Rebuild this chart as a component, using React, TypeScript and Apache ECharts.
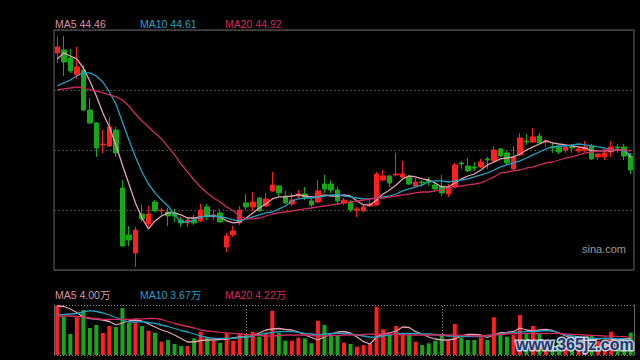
import React, { useEffect, useRef } from "react";
import * as echarts from "echarts";

// [open, close, low, high]
const candles: number[][] = [
  [52.28, 52.73, 51.53, 53.48], [52.50, 51.60, 50.55, 53.55], [51.90, 50.93, 50.78, 52.58], [50.63, 51.23, 50.33, 52.73], [51.00, 48.00, 47.93, 51.38],
  [48.00, 47.03, 46.95, 48.90], [47.03, 45.15, 44.48, 47.10], [45.38, 45.45, 44.78, 46.50], [45.30, 46.73, 45.23, 47.48], [46.50, 44.78, 44.48, 46.73],
  [42.15, 37.80, 37.75, 42.75], [38.63, 38.25, 37.80, 39.30], [37.28, 39.00, 36.23, 39.23], [40.20, 39.83, 39.60, 40.88], [39.45, 40.20, 39.23, 40.80],
  [41.10, 40.43, 40.35, 41.25], [40.43, 40.50, 40.05, 40.65], [40.35, 40.05, 39.30, 40.65], [40.28, 40.05, 39.60, 40.58], [39.75, 39.53, 39.23, 39.98],
  [39.53, 39.75, 39.23, 39.98], [39.75, 39.53, 39.38, 40.13], [39.68, 40.50, 39.60, 40.95], [40.73, 39.98, 39.75, 40.95], [39.98, 40.13, 39.75, 40.50],
  [40.28, 39.60, 39.53, 40.58], [37.73, 38.55, 37.35, 38.78], [38.63, 38.93, 38.48, 39.30], [39.53, 40.50, 39.38, 40.80], [41.03, 40.73, 40.50, 41.70],
  [40.73, 41.10, 40.43, 41.85], [41.40, 40.43, 40.35, 41.48], [40.80, 41.33, 40.73, 41.78], [41.93, 42.38, 41.85, 43.35], [42.30, 41.78, 41.55, 42.38],
  [41.55, 41.03, 40.95, 41.93], [40.95, 41.25, 40.80, 41.78], [41.55, 41.70, 41.40, 42.00], [41.70, 41.48, 41.25, 42.23], [41.18, 40.88, 40.73, 41.40],
  [41.10, 41.93, 41.03, 42.75], [42.45, 42.08, 41.78, 43.13], [42.45, 42.00, 41.78, 42.75], [42.00, 41.18, 40.88, 42.23], [41.03, 41.25, 40.88, 41.40],
  [41.10, 40.50, 40.35, 41.25], [40.50, 40.58, 39.98, 40.73], [40.43, 40.73, 40.35, 40.88], [40.80, 40.95, 40.73, 41.25], [40.88, 43.20, 40.83, 43.35],
  [42.75, 43.05, 42.68, 43.50], [43.05, 42.53, 42.23, 43.13], [43.13, 43.20, 43.05, 44.78], [42.98, 43.20, 42.90, 44.18], [42.98, 42.45, 42.38, 43.13],
  [42.30, 42.60, 42.23, 42.90], [42.60, 42.53, 42.23, 42.75], [42.75, 42.60, 42.30, 42.98], [42.38, 42.08, 41.85, 42.60], [42.30, 41.78, 41.55, 43.13],
  [41.70, 42.23, 41.48, 42.45], [42.23, 43.88, 42.15, 44.03], [44.03, 43.95, 43.58, 44.18], [43.80, 43.43, 43.35, 44.40], [43.73, 43.65, 43.43, 44.10],
  [43.73, 44.10, 43.65, 44.33], [44.33, 44.25, 43.58, 44.48], [44.18, 45.00, 44.10, 45.30], [45.08, 44.55, 44.48, 45.15], [44.78, 44.03, 43.88, 44.93],
  [43.58, 44.48, 43.43, 45.30], [44.63, 45.90, 44.55, 46.28], [45.68, 45.60, 45.38, 46.20], [45.60, 45.98, 45.53, 46.65], [46.05, 45.53, 45.45, 46.28],
  [45.60, 45.68, 45.23, 45.83], [45.23, 45.15, 44.78, 45.60], [45.23, 44.85, 44.70, 45.30], [45.00, 45.23, 44.78, 45.30], [45.23, 45.15, 44.78, 45.45],
  [44.93, 45.08, 44.78, 45.23], [45.00, 45.23, 44.85, 45.68], [45.30, 44.33, 44.25, 45.45], [44.48, 44.70, 44.25, 44.78], [44.48, 44.78, 44.25, 45.00],
  [44.85, 45.23, 44.48, 45.68], [45.23, 45.15, 44.78, 45.45], [45.23, 44.55, 44.25, 45.45], [44.55, 43.50, 43.20, 44.78],
];

const ma5 = [
  51.83, 52.28, 52.05, 51.83, 51.15, 50.18, 49.05, 47.78, 46.73, 45.38,
  43.88, 42.45, 41.03, 39.90, 39.08, 39.68, 40.05, 40.28, 40.28, 40.13,
  39.90, 39.90, 39.98, 40.05, 40.05, 39.98, 39.68, 39.53, 39.60, 39.90,
  40.28, 40.65, 40.95, 41.33, 41.48, 41.48, 41.55, 41.63, 41.55, 41.48,
  41.48, 41.63, 41.55, 41.55, 41.63, 41.55, 41.18, 40.88, 40.88, 41.25,
  41.70, 42.00, 42.38, 42.83, 43.05, 42.98, 42.83, 42.75, 42.53, 42.23,
  42.23, 42.53, 42.83, 43.05, 43.20, 43.50, 43.88, 44.10, 44.33, 44.40,
  44.48, 44.70, 45.00, 45.23, 45.45, 45.68, 45.53, 45.45, 45.38, 45.30,
  45.23, 45.15, 44.93, 44.93, 44.93, 44.93, 45.00, 45.00, 44.46,
];
const ma10 = [
  49.80, 50.03, 50.25, 50.55, 50.78, 50.78, 50.55, 50.10, 49.35, 48.45,
  47.10, 45.75, 44.48, 43.35, 42.45, 41.78, 41.25, 40.80, 40.13, 39.60,
  39.60, 39.75, 39.98, 40.05, 40.05, 39.98, 39.90, 39.75, 39.68, 39.83,
  39.98, 40.13, 40.28, 40.35, 40.58, 40.80, 41.18, 41.33, 41.40, 41.40,
  41.48, 41.55, 41.63, 41.63, 41.55, 41.48, 41.40, 41.33, 41.33, 41.40,
  41.48, 41.55, 41.70, 41.93, 42.08, 42.23, 42.38, 42.60, 42.68, 42.68,
  42.60, 42.68, 42.75, 42.83, 42.98, 43.13, 43.28, 43.50, 43.73, 43.88,
  44.03, 44.18, 44.40, 44.63, 44.85, 45.08, 45.23, 45.30, 45.30, 45.38,
  45.45, 45.38, 45.30, 45.23, 45.15, 45.00, 45.00, 44.93, 44.61,
];
const ma20 = [
  49.50, 49.58, 49.65, 49.73, 49.65, 49.50, 49.43, 49.28, 49.13, 48.98,
  48.75, 48.30, 47.70, 47.18, 46.73, 46.28, 45.83, 45.23, 44.63, 43.95,
  43.35, 42.75, 42.23, 41.78, 41.40, 41.10, 40.73, 40.43, 40.05, 39.83,
  39.83, 39.90, 40.05, 40.20, 40.28, 40.35, 40.43, 40.50, 40.58, 40.65,
  40.73, 40.80, 40.88, 40.95, 41.03, 41.10, 41.18, 41.25, 41.33, 41.40,
  41.40, 41.48, 41.55, 41.63, 41.70, 41.78, 41.85, 41.85, 41.93, 42.00,
  42.15, 42.23, 42.30, 42.38, 42.45, 42.53, 42.75, 42.98, 43.28, 43.35,
  43.43, 43.50, 43.65, 43.73, 43.88, 44.03, 44.10, 44.25, 44.40, 44.48,
  44.63, 44.78, 44.85, 44.93, 45.00, 45.00, 45.00, 45.00, 44.92,
];

// volume, in 万
const volumes = [
  11.9, 9.24, 5.04, 9.05, 10.8, 6.48, 7.2, 5.28, 6.96, 6.72,
  11.28, 7.75, 7.75, 6.96, 5.83, 5.35, 3.19, 3.6, 2.64, 2.16,
  2.16, 4.01, 5.59, 4.25, 3.43, 2.95, 5.21, 3.43, 5.21, 4.8,
  5.59, 4.39, 5.35, 10.63, 5.35, 3.43, 3.43, 4.15, 4.01, 2.81,
  8.23, 7.2, 4.8, 4.56, 2.95, 2.64, 1.99, 2.4, 2.64, 11.59,
  6.17, 4.8, 6.96, 5.04, 5.21, 3.19, 2.4, 2.81, 3.43, 5.04,
  3.43, 7.44, 4.25, 3.6, 3.6, 4.25, 3.6, 9.05, 4.8, 4.39,
  4.8, 9.6, 5.21, 6.96, 5.04, 3.6, 3.12, 4.08, 3.36, 2.88,
  3.12, 4.08, 4.56, 3.36, 3.6, 5.59, 2.88, 3.6, 5.35,
];
const vma5 = [
  11.76, 11.64, 11.04, 10.2, 9.12, 8.76, 8.64, 8.4, 8.04, 7.2,
  7.68, 8.16, 8.4, 8.16, 7.44, 6.72, 6.0, 5.52, 4.8, 3.96,
  3.12, 3.12, 3.48, 3.6, 3.6, 3.72, 3.84, 4.08, 4.32, 4.32,
  4.56, 5.28, 6.0, 6.24, 6.36, 6.12, 6.0, 5.52, 4.8, 4.2,
  3.6, 4.32, 5.04, 5.52, 5.64, 5.28, 4.32, 3.19, 2.64, 4.32,
  5.04, 5.28, 5.76, 6.72, 6.6, 5.59, 5.04, 4.32, 3.84, 3.6,
  3.6, 3.84, 4.56, 4.92, 4.92, 4.8, 4.2, 4.8, 5.35, 5.45,
  5.59, 6.48, 6.0, 5.76, 6.0, 6.12, 5.88, 5.28, 4.56, 4.08,
  3.77, 3.7, 3.6, 3.84, 4.01, 3.84, 3.6, 3.84, 4.0,
];
const vma10 = [
  9.6, 9.72, 9.84, 9.96, 10.32, 10.63, 10.44, 10.08, 9.6, 9.0,
  8.4, 7.92, 7.92, 7.99, 7.8, 7.61, 7.2, 6.84, 6.36, 5.88,
  5.52, 5.04, 4.56, 4.2, 4.01, 4.01, 4.01, 4.01, 4.2, 4.32,
  4.56, 4.92, 5.21, 5.4, 5.59, 5.59, 5.59, 5.45, 5.21, 5.04,
  4.8, 5.04, 5.16, 5.21, 5.21, 5.04, 4.8, 4.56, 4.32, 4.25,
  4.56, 4.8, 5.04, 5.16, 5.21, 5.16, 5.09, 5.04, 4.92, 4.8,
  4.56, 4.56, 4.49, 4.44, 4.39, 4.44, 4.68, 4.8, 5.04, 5.28,
  5.35, 5.52, 5.59, 5.64, 5.76, 5.83, 5.76, 5.28, 4.8, 4.56,
  4.32, 4.08, 4.01, 4.01, 4.01, 4.0, 3.9, 3.8, 3.67,
];
const vma20 = [
  9.36, 9.36, 9.36, 9.24, 9.12, 8.88, 8.64, 8.57, 8.57, 8.57,
  8.57, 8.57, 8.64, 8.69, 8.76, 8.81, 8.52, 8.04, 7.56, 7.2,
  6.84, 6.48, 6.0, 5.76, 5.59, 5.45, 5.33, 5.21, 5.04, 4.92,
  4.8, 4.68, 4.56, 4.56, 4.68, 4.8, 4.8, 4.8, 4.8, 4.68,
  4.56, 4.56, 4.68, 4.73, 4.8, 4.8, 4.85, 4.92, 4.99, 5.04,
  5.04, 4.99, 4.92, 4.85, 4.8, 4.8, 4.8, 4.8, 4.8, 4.8,
  4.8, 4.8, 4.73, 4.66, 4.56, 4.56, 4.68, 4.8, 4.92, 5.04,
  5.16, 5.21, 5.21, 5.21, 5.21, 5.21, 5.21, 5.16, 5.04, 4.97,
  4.9, 4.8, 4.73, 4.66, 4.56, 4.51, 4.46, 4.42, 4.22,
];

const categories = candles.map((_, i) => String(i + 1));
const monthMarks = [29, 59];
const priceLegend = ["MA5 44.46", "MA10 44.61", "MA20 44.92"];
const volumeLegend = ["MA5 4.00万", "MA10 3.67万", "MA20 4.22万"];

const UP = "#ff1f1f";
const DOWN = "#17a817";
const C5 = "#e4a2b4";
const C10 = "#1fa1c2";
const C20 = "#cf2b5f";
const T5 = "#d893a6";
const FONT = "'Liberation Sans', Arial, 'Noto Sans CJK SC', sans-serif";

const hiddenCat = {
  axisLine: { show: false },
  axisTick: { show: false },
  axisLabel: { show: false },
  splitLine: { show: false },
};

function maLine(data: number[], color: string, xi: number, yi: number) {
  return {
    type: "line",
    xAxisIndex: xi,
    yAxisIndex: yi,
    data,
    symbol: "none",
    smooth: false,
    lineStyle: { color, width: 1.3 },
    itemStyle: { color },
    z: 4,
  };
}

function legendTexts(labels: string[], y: number) {
  const xs = [55, 140, 225];
  const cols = [T5, C10, C20];
  return labels.map((t, i) => ({
    type: "text",
    x: xs[i],
    y,
    style: { text: t, fill: cols[i], font: `10.5px ${FONT}`, verticalAlign: "middle" },
  }));
}

export default function App() {
  const ref = useRef<HTMLDivElement>(null);
  useEffect(() => {
    if (!ref.current) return;
    const chart = echarts.init(ref.current, undefined, { renderer: "svg" });
    chart.setOption({
      animation: false,
      backgroundColor: "#000",
      grid: [
        { left: 54, top: 30, width: 580, height: 240, show: true, borderColor: "#666", borderWidth: 1 },
        { left: 54, top: 305, width: 580, height: 50 },
      ],
      xAxis: [
        { type: "category", gridIndex: 0, data: categories, boundaryGap: true, ...hiddenCat },
        { type: "category", gridIndex: 1, data: categories, boundaryGap: true, ...hiddenCat },
      ],
      yAxis: [
        {
          type: "value", gridIndex: 0, min: 36, max: 54, interval: 4.5, scale: false,
          axisLine: { show: false }, axisTick: { show: false }, axisLabel: { show: false },
          splitLine: { show: true, lineStyle: { color: "#4a4a4a", type: [2, 2], width: 1 } },
        },
        {
          type: "value", gridIndex: 1, min: 0, max: 12, interval: 12, position: "left",
          axisLine: { show: true, lineStyle: { color: "#666" } }, axisTick: { show: false }, axisLabel: { show: false },
          splitLine: { show: true, lineStyle: { color: "#888", type: [1, 2], width: 1 } },
        },
        {
          type: "value", gridIndex: 1, min: 0, max: 12, interval: 12, position: "right",
          axisLine: { show: true, lineStyle: { color: "#666" } }, axisTick: { show: false }, axisLabel: { show: false },
          splitLine: { show: false },
        },
      ],
      series: [
        {
          type: "candlestick",
          xAxisIndex: 0,
          yAxisIndex: 0,
          data: candles,
          barWidth: 5,
          itemStyle: { color: UP, color0: DOWN, borderColor: UP, borderColor0: DOWN, borderWidth: 1 },
          z: 3,
        },
        maLine(ma5, C5, 0, 0),
        maLine(ma10, C10, 0, 0),
        maLine(ma20, C20, 0, 0),
        {
          type: "bar",
          xAxisIndex: 1,
          yAxisIndex: 1,
          barWidth: 4,
          data: volumes.map((v, i) => ({
            value: v,
            itemStyle: { color: candles[i][1] >= candles[i][0] ? UP : DOWN },
          })),
          markLine: {
            silent: true,
            symbol: ["none", "none"],
            label: { show: false },
            lineStyle: { color: "#888", type: [1, 2], width: 1 },
            data: monthMarks.map((m) => ({ xAxis: categories[m] })),
          },
          z: 2,
        },
        maLine(vma5, C5, 1, 1),
        maLine(vma10, C10, 1, 1),
        maLine(vma20, C20, 1, 1),
      ],
      graphic: [
        ...legendTexts(priceLegend, 24),
        ...legendTexts(volumeLegend, 295),
        {
          type: "text",
          x: 582,
          y: 249,
          style: { text: "sina.com", fill: "#9c9c9c", font: `11px ${FONT}`, verticalAlign: "middle" },
        },
        {
          type: "text",
          x: 516,
          y: 344,
          z: 100,
          style: {
            text: "www.365jz.com",
            fill: "#1d3a72",
            stroke: "rgba(215,228,245,0.85)",
            lineWidth: 3,
            font: `bold 16px ${FONT}`,
            verticalAlign: "middle",
          },
        },
      ],
    });
    return () => chart.dispose();
  }, []);
  return <div ref={ref} style={{ position: "fixed", left: 0, top: 0, width: 640, height: 360 }} />;
}
